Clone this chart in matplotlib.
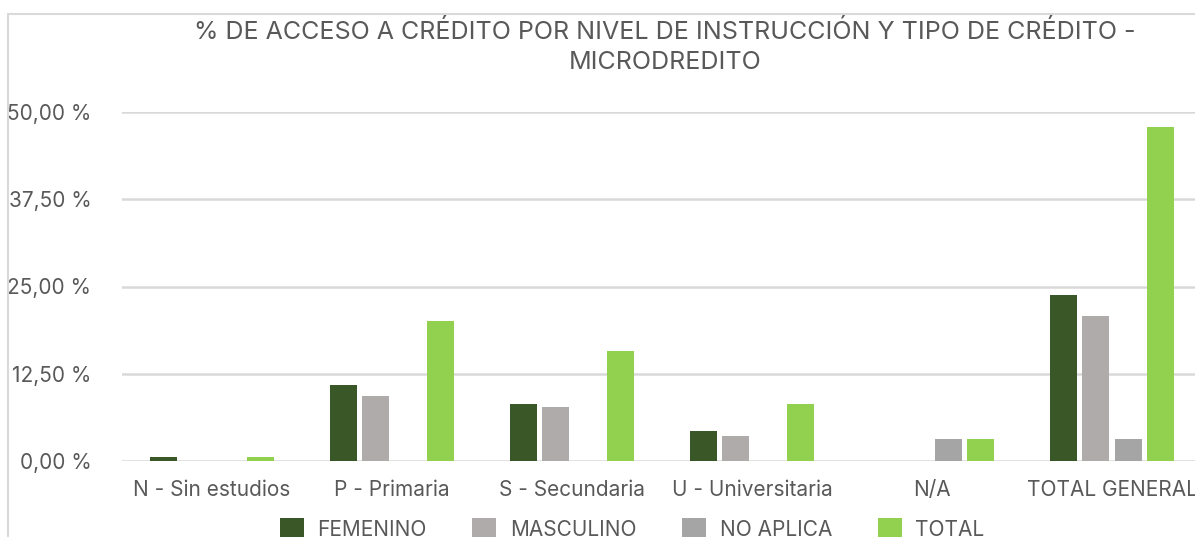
import numpy as np
import matplotlib.pyplot as plt
from matplotlib.patches import Rectangle

# --- data ---
categorias = ['N - Sin estudios', 'P - Primaria', 'S - Secundaria',
              'U - Universitaria', 'N/A', 'TOTAL GENERAL']
femenino = [0.6, 10.9, 8.2, 4.3, 0.0, 23.8]
masculino = [0.0, 9.3, 7.7, 3.6, 0.0, 20.8]
no_aplica = [0.0, 0.0, 0.0, 0.0, 3.15, 3.15]
total = [0.6, 20.0, 15.8, 8.2, 3.15, 47.85]
series = ['FEMENINO', 'MASCULINO', 'NO APLICA', 'TOTAL']
colores = ['#3A5727', '#AFABAA', '#A5A5A5', '#92D050']
yticks = [0, 12.5, 25, 37.5, 50]

plt.rcParams['font.family'] = ['Inter', 'DejaVu Sans']
gris = '#595959'

W, H = 1195, 537
fig = plt.figure(figsize=(W / 100, H / 100), dpi=100)

# chart border (cut off at right / bottom like the screenshot)
fig.patches.append(Rectangle((8 / W, -0.1), 1.2, (H - 14) / H + 0.1,
                             transform=fig.transFigure, fill=False,
                             edgecolor='#D9D9D9', linewidth=1.5))

ax = fig.add_axes([122 / W, (H - 461) / H, 1080 / W, 349 / H])

x = np.arange(len(categorias))
paso = 0.178
ancho = 0.15
for i, (vals, nombre, col) in enumerate(zip([femenino, masculino, no_aplica, total], series, colores)):
    ax.bar(x + (i - 1.5) * paso, vals, ancho, color=col, label=nombre, zorder=3)

ax.set_xlim(-0.5, len(categorias) - 0.5)
ax.set_ylim(0, 50)
ax.set_yticks(yticks)
ax.set_yticklabels(['%s %%' % ('%.2f' % v).replace('.', ',') for v in yticks])
ax.set_xticks(x)
ax.set_xticklabels(categorias)
ax.tick_params(axis='y', length=0, pad=22, labelsize=15, labelcolor=gris)
ax.tick_params(axis='x', length=0, pad=14, labelsize=15, labelcolor=gris)
ax.grid(axis='y', color='#D9D9D9', linewidth=1.8, zorder=0)
for s in ax.spines.values():
    s.set_visible(False)

fig.text(665 / W, (H - 20) / H,
         '% DE ACCESO A CRÉDITO POR NIVEL DE INSTRUCCIÓN Y TIPO DE CRÉDITO -\nMICRODREDITO',
         ha='center', va='top', fontsize=18, color=gris, linespacing=1.4)

fig.legend(loc='upper center', bbox_to_anchor=(632 / W, (H - 508) / H), ncol=4,
           frameon=False, fontsize=15, labelcolor=gris, handlelength=1.15,
           handleheight=1.15, handletextpad=0.65, columnspacing=2.2, borderpad=0)

fig.savefig('out.png', dpi=100)
